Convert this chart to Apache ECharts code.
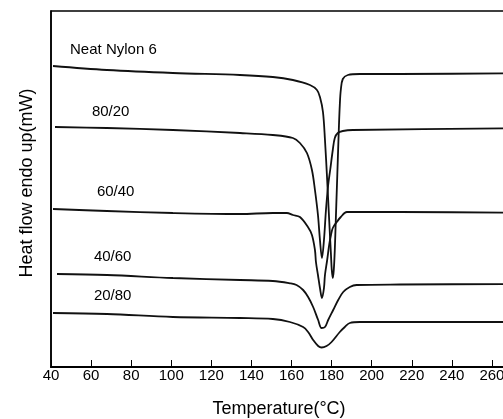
<!DOCTYPE html>
<html>
<head>
<meta charset="utf-8">
<script src="https://cdn.jsdelivr.net/npm/echarts@6/dist/echarts.min.js"></script>
<style>html,body{margin:0;padding:0;background:#fff;}#c{width:503px;height:419px;}</style>
</head>
<body>
<div id="c"></div>
<script>
// Temperature (°C) vs heat flow (arbitrary units, endo up)
const xTicks = [40, 60, 80, 100, 120, 140, 160, 180, 200, 220, 240, 260, 280];
const seriesNames = ['Neat Nylon 6', '80/20', '60/40', '40/60', '20/80'];

const neat = [[41.0,301],[67.9,297],[100.8,294],[134.3,292],[150.7,290],[160.7,287],[169.2,282],[172.7,277],[174.2,270],[175.7,255],[176.7,227],[177.8,187],[178.8,147],[179.7,112],[180.1,97],[180.6,89],[181.1,97],[181.6,117],[182.1,147],[182.6,177],[183.1,207],[183.6,237],[184.1,262],[184.6,277],[185.6,288],[188.1,292],[194.1,293],[214.1,293],[280,294]];
const b8020 = [[42.0,240],[67.9,239],[100.8,237],[134.3,234],[150.7,232],[160.7,229],[164.2,224],[167.7,214],[170.2,197],[171.7,177],[173.2,152],[174.2,127],[175.2,109],[176.2,127],[177.2,157],[178.3,182],[179.3,197],[180.6,217],[181.6,229],[183.1,234],[185.6,236],[190.6,237],[280,239]];
const b6040 = [[41.0,158],[67.9,156],[100.8,154],[134.3,153],[150.7,154],[157.7,154],[160.7,152],[164.2,150],[168.2,140],[170.2,132],[171.7,117],[172.2,105],[173.2,92],[174.2,79],[175.2,69],[176.2,79],[176.7,92],[177.8,107],[178.8,122],[179.7,132],[180.6,139],[182.6,145],[184.6,150],[187.6,155],[214.1,155],[280,154]];
const b4060 = [[43.0,93],[67.9,92],[100.8,89],[134.3,87],[150.7,86],[159.2,83.7],[162.5,82],[165.8,77],[168.3,70],[170.8,60],[173.3,47],[175.0,39],[176.7,40],[178.3,47],[180.8,57],[183.3,67],[185.8,75],[189.1,80],[192.5,82],[214.1,82.5],[280,83]];
const b2080 = [[41.0,54],[67.9,53],[100.8,50],[134.3,49],[150.7,48],[159.2,45],[165.8,40],[168.3,35],[170.8,27],[173.3,21],[175.0,19.5],[177.5,21],[180.0,25],[184.1,35],[186.6,40],[189.1,44],[194.1,45],[214.1,45],[280,45]];

const labelT = [49.5, 60.4, 62.9, 61.4, 61.4];
const labelV = [317, 255, 175, 110, 71];

const allData = [neat, b8020, b6040, b4060, b2080];
const FONT = '"Liberation Sans", Arial, sans-serif';

const chart = echarts.init(document.getElementById('c'), null, {renderer: 'canvas'});
chart.setOption({
  animation: false,
  backgroundColor: '#fff',
  grid: {left: 51, top: 11, width: 481, height: 356, show: true, borderColor: '#000', borderWidth: 1.5,
    containLabel: false, outerBoundsMode: 'none'},
  xAxis: {
    type: 'value', min: 40, max: 280, interval: 20,
    axisLine: {show: true, lineStyle: {color: '#000', width: 2}},
    axisTick: {show: true, inside: true, length: 7, lineStyle: {color: '#000', width: 1}},
    axisLabel: {show: true, color: '#000', fontSize: 15, fontFamily: FONT, margin: 1,
      formatter: v => xTicks.includes(v) ? String(v) : ''},
    splitLine: {show: false}
  },
  yAxis: {
    type: 'value', min: 0, max: 356,
    axisLine: {show: true, lineStyle: {color: '#000', width: 1.5}},
    axisTick: {show: false}, axisLabel: {show: false}, splitLine: {show: false}
  },
  graphic: [
    {type: 'text', x: 27, y: 183, rotation: Math.PI / 2,
      style: {text: 'Heat flow endo up(mW)', align: 'center', verticalAlign: 'middle', font: '18px ' + FONT, fill: '#000'}},
    {type: 'text', x: 279, y: 409,
      style: {text: 'Temperature(°C)', align: 'center', verticalAlign: 'middle', font: '18px ' + FONT, fill: '#000'}}
  ],
  series: allData.map((d, i) => ({
    type: 'line', name: seriesNames[i], data: d, showSymbol: false, symbol: 'none',
    smooth: 0.35,
    lineStyle: {color: '#111', width: 1.8},
    markPoint: {
      symbol: 'circle', symbolSize: 0,
      data: [{coord: [labelT[i], labelV[i]]}],
      label: {show: true, position: 'right', distance: 0, formatter: seriesNames[i],
        color: '#000', fontSize: 15, fontFamily: FONT}
    }
  }))
});
</script>
</body>
</html>
